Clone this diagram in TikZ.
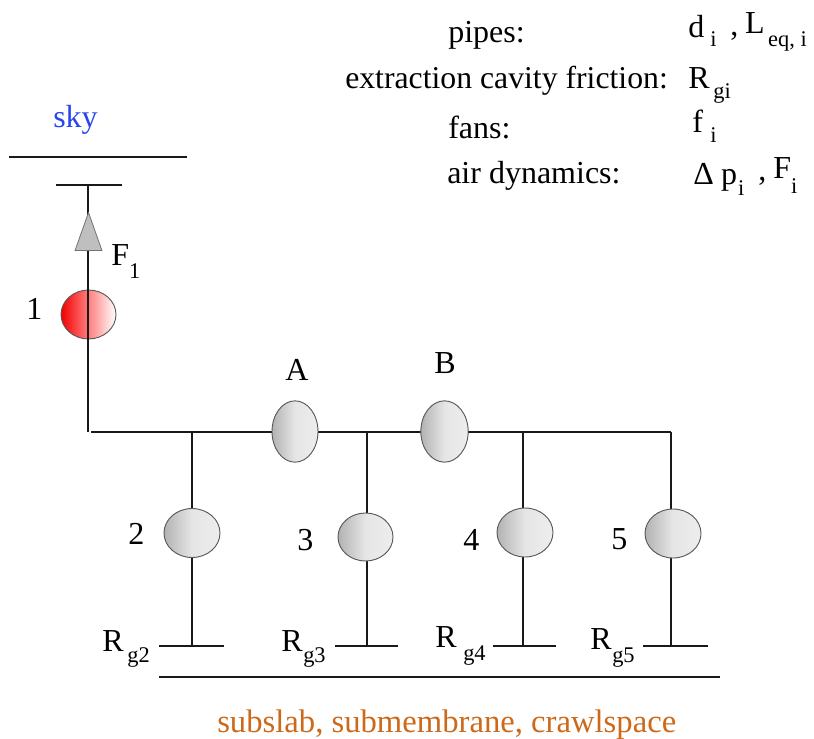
\documentclass[tikz,border=0pt]{standalone}
\usepackage{fontspec}
\setmainfont{Liberation Serif}
\usetikzlibrary{shapes.geometric}
\definecolor{skyblue}{RGB}{40,70,240}
\definecolor{soilorange}{RGB}{205,105,25}
\newcommand{\lowsub}[2]{\raisebox{-#1}{\fontsize{16.8}{18}\selectfont #2}}
\tikzset{
  x=0.75pt,y=-0.75pt,
  pipeline/.style={draw=black!90,line width=1.5pt},
  fanshape/.style={ellipse,draw=black!65,line width=0.7pt,inner sep=0pt},
  grayshade/.style={left color=black!30,right color=black!7,middle color=black!10},
  grayfan/.style={fanshape,grayshade,minimum width=42pt,minimum height=36.75pt},
  vfan/.style={fanshape,grayshade,minimum width=34.5pt,minimum height=46pt},
  redfan/.style={fanshape,minimum width=41.25pt,minimum height=36.75pt,left color=red!95!black,right color=white,middle color=red!50!white},
  txt/.style={anchor=base west,inner sep=0pt,font=\fontsize{24}{27}\selectfont,text=black},
  flowarrow/.style={isosceles triangle,isosceles triangle apex angle=39,shape border rotate=90,draw=black!55,fill=black!25,line width=0.6pt,inner sep=0pt,minimum height=28.5pt,minimum width=20pt}
}
\begin{document}
\begin{tikzpicture}
\useasboundingbox (0,0) rectangle (814,739);
\coordinate (skyL) at (9,157); \coordinate (skyR) at (187,157);
\coordinate (topL) at (56,185); \coordinate (topR) at (122,185); \coordinate (topM) at (88,185);
\coordinate (corner) at (88,432);
\coordinate (hstart) at (91,432); \coordinate (j2) at (192,432); \coordinate (j3) at (367,432); \coordinate (j4) at (523,432); \coordinate (j5) at (671,432);
\coordinate (g2L) at (159,646); \coordinate (g2R) at (224,646); \coordinate (g2) at (192,646);
\coordinate (g3L) at (335,646); \coordinate (g3R) at (398,646); \coordinate (g3) at (367,646);
\coordinate (g4L) at (493,646); \coordinate (g4R) at (556,646); \coordinate (g4) at (523,646);
\coordinate (g5L) at (643,646); \coordinate (g5R) at (708,646); \coordinate (g5) at (671,646);
\coordinate (soilL) at (159,677); \coordinate (soilR) at (720,677);
\draw[pipeline] (skyL) -- (skyR);
\draw[pipeline] (topL) -- (topR);
\draw[pipeline] (hstart) -- (j5);
\draw[pipeline] (soilL) -- (soilR);
\foreach \n in {2,3,4,5} {
  \draw[pipeline] (g\n L) -- (g\n R);
  \draw[pipeline] (j\n) -- (g\n);
}
% fans
\node[vfan] (A) at (295,431.5) {};
\node[vfan,minimum width=35.5pt] (B) at (444.5,431.5) {};
\node[redfan] (f1) at (88.5,314.5) {};
\node[grayfan] (f2) at (192,533) {};
\node[grayfan,minimum width=41.25pt,minimum height=36pt] (f3) at (365.5,537) {};
\node[grayfan] (f4) at (525,532.5) {};
\node[grayfan] (f5) at (673,533.5) {};
\draw[pipeline] (topM) -- (corner);
\node[flowarrow] (arrow) at (88.5,241) {};
% labels
\node[txt,text=skyblue] (sky) at (53,127) {sky};
\node[txt] (F1) at (111,265) {F\lowsub{9.75pt}{1}};
\node[txt] (n1) at (26,319) {1};
\node[txt] (la) at (285,380) {A};
\node[txt] (lb) at (434,373) {B};
\node[txt] (n2) at (128,544) {2};
\node[txt] (n3) at (297,550) {3};
\node[txt] (n4) at (463,550) {4};
\node[txt] (n5) at (611,549) {5};
\node[txt] (r2) at (102,651) {R\hspace{2.8pt}\lowsub{8.25pt}{g2}};
\node[txt] (r3) at (281,651) {R\hspace{.5pt}\lowsub{8.25pt}{g3}};
\node[txt] (r4) at (435,647) {R\hspace{5pt}\lowsub{9.75pt}{g4}};
\node[txt] (r5) at (590,649) {R\hspace{.5pt}\lowsub{9.75pt}{g5}};
\node[txt,text=soilorange,font=\fontsize{24.5}{27}\selectfont] (soil) at (217,732) {subslab, submembrane, crawlspace};
\node[txt] (t1) at (448,42) {pipes:};
\node[txt,font=\fontsize{23.8}{27}\selectfont] (t2) at (345,88) {extraction cavity friction:};
\node[txt] (t3) at (448,138) {fans:};
\node[txt] (t4) at (447,183) {air dynamics:};
\node[txt] (v1) at (688,37) {d\hspace{4.5pt}\lowsub{6.75pt}{i}\hspace{10.5pt}\raisebox{1.5pt}{,}\hspace{5pt}\raisebox{3pt}{L}\hspace{2.6pt}\lowsub{6.75pt}{eq, i}};
\node[txt] (v2) at (688,88) {R\hspace{2.8pt}\lowsub{7.5pt}{gi}};
\node[txt] (v3) at (692,132) {f\hspace{5.5pt}\lowsub{7.5pt}{i}};
\node[txt] (v4) at (693,184) {Δ\hspace{5.5pt}p\hspace{.75pt}\lowsub{8.25pt}{i}\hspace{10.5pt}\raisebox{3pt}{,}\hspace{5.25pt}\raisebox{4.5pt}{F}\lowsub{6.75pt}{i}};
\end{tikzpicture}
\end{document}
